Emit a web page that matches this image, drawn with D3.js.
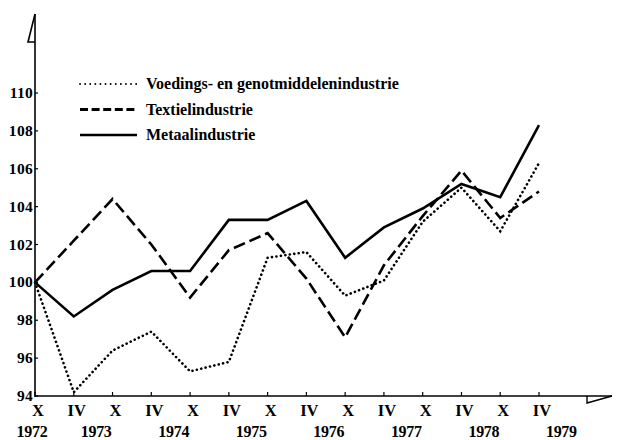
<!DOCTYPE html>
<html>
<head>
<meta charset="utf-8">
<script src="https://cdn.jsdelivr.net/npm/d3@7"></script>
<style>
  body { margin: 0; background: #fff; }
</style>
</head>
<body>
<div id="vis"></div>
<script>
// periods: X = october, IV = april
const periods = ['X', 'IV', 'X', 'IV', 'X', 'IV', 'X', 'IV', 'X', 'IV', 'X', 'IV', 'X', 'IV'];
const years = ['1972', '1973', '1974', '1975', '1976', '1977', '1978', '1979'];
const yTicks = [94, 96, 98, 100, 102, 104, 106, 108, 110];

const voedings = [100, 94.2, 96.4, 97.4, 95.3, 95.8, 101.3, 101.6, 99.3, 100.1, 103.2, 105.0, 102.7, 106.3];
const textiel = [100, 102.2, 104.4, 102.0, 99.2, 101.7, 102.6, 100.2, 97.1, 100.9, 103.5, 105.9, 103.4, 104.8];
const metaal = [100, 98.2, 99.6, 100.6, 100.6, 103.3, 103.3, 104.3, 101.3, 102.9, 103.9, 105.2, 104.5, 108.3];

const seriesNames = ['Voedings- en genotmiddelenindustrie', 'Textielindustrie', 'Metaalindustrie'];

const serif = "'Liberation Serif', 'Times New Roman', 'DejaVu Serif', serif";
const width = 638, height = 440;
const svg = d3.select('#vis')
  .append('svg')
  .attr('width', width)
  .attr('height', height)
  .attr('font-family', serif);

const x = d3.scaleLinear()
  .domain([0, periods.length - 1])
  .range([35, 539]);

const y = d3.scaleLinear()
  .domain([94, 110])
  .range([396, 93]);

const axisY = 396;
const axisX = 35;

// axis lines with the half arrow heads
svg.append('line')
  .attr('x1', axisX).attr('x2', axisX)
  .attr('y1', 14).attr('y2', axisY + 1)
  .attr('stroke', '#000').attr('stroke-width', 1.6);
svg.append('path')
  .attr('d', `M${axisX},14 L${axisX - 7},42 L${axisX},42`)
  .attr('fill', 'none').attr('stroke', '#000').attr('stroke-width', 1.6);

svg.append('line')
  .attr('x1', axisX).attr('x2', 612)
  .attr('y1', axisY).attr('y2', axisY)
  .attr('stroke', '#000').attr('stroke-width', 1.6);
svg.append('path')
  .attr('d', `M612,${axisY} L587,${axisY + 7} L587,${axisY}`)
  .attr('fill', 'none').attr('stroke', '#000').attr('stroke-width', 1.4);

// y ticks
const yt = svg.selectAll('.ytick')
  .data(yTicks)
  .enter()
  .append('g')
  .attr('class', 'ytick');
yt.append('line')
  .attr('x1', axisX).attr('x2', axisX + 3)
  .attr('y1', d => y(d)).attr('y2', d => y(d))
  .attr('stroke', '#000').attr('stroke-width', 1.2);
yt.append('text')
  .attr('x', axisX - 2)
  .attr('y', d => y(d) + 5)
  .attr('text-anchor', 'end')
  .attr('font-weight', 'bold')
  .attr('font-size', 15.5)
  .attr('letter-spacing', '0.3')
  .text(d => d);

// x ticks
svg.selectAll('.xtick')
  .data(periods)
  .enter()
  .append('line')
  .attr('class', 'xtick')
  .attr('x1', (d, i) => x(i)).attr('x2', (d, i) => x(i))
  .attr('y1', axisY).attr('y2', axisY - 4)
  .attr('stroke', '#000').attr('stroke-width', 1.2);

svg.selectAll('.xlbl')
  .data(periods)
  .enter()
  .append('text')
  .attr('x', (d, i) => x(i) + 3)
  .attr('y', 416)
  .attr('text-anchor', 'middle')
  .attr('font-weight', 'bold')
  .attr('font-size', 16.5)
  .text(d => d);

// year labels: 1972 under first X, the others between IV and X
svg.selectAll('.ylbl')
  .data(years)
  .enter()
  .append('text')
  .attr('x', (d, i) => i === 0 ? x(0) - 3 : x(2 * i - 0.5) + 3)
  .attr('y', 437)
  .attr('text-anchor', 'middle')
  .attr('font-weight', 'bold')
  .attr('font-size', 16)
  .attr('letter-spacing', '-0.3')
  .text(d => d);

// lines
const line = d3.line()
  .x((d, i) => x(i))
  .y(d => y(d));

const styles = [
  { dash: '0.1,4.4', width: 2.6, cap: 'round' },
  { dash: '12,5', width: 2.6, cap: 'butt' },
  { dash: null, width: 2.6, cap: 'butt' }
];

[voedings, textiel, metaal].forEach((s, k) => {
  svg.append('path')
    .datum(s)
    .attr('d', line)
    .attr('fill', 'none')
    .attr('stroke', '#000')
    .attr('stroke-width', styles[k].width)
    .attr('stroke-linecap', styles[k].cap)
    .attr('stroke-linejoin', 'miter')
    .attr('stroke-dasharray', styles[k].dash);
});

// legend
const legendDash = ['0.1,5', '8,3.6', null];
const legend = svg.selectAll('.legend')
  .data(seriesNames)
  .enter()
  .append('g')
  .attr('class', 'legend')
  .attr('transform', (d, i) => `translate(80, ${84 + i * 25.5})`);
legend.append('line')
  .attr('x1', 0).attr('x2', 57)
  .attr('y1', 0).attr('y2', 0)
  .attr('stroke', '#000')
  .attr('stroke-width', (d, i) => [1.8, 3, 2.6][i])
  .attr('stroke-linecap', (d, i) => styles[i].cap)
  .attr('stroke-dasharray', (d, i) => legendDash[i]);
legend.append('text')
  .attr('x', 66)
  .attr('y', 5)
  .attr('font-size', 16)
  .attr('font-weight', 600)
  .text(d => d);
</script>
</body>
</html>
